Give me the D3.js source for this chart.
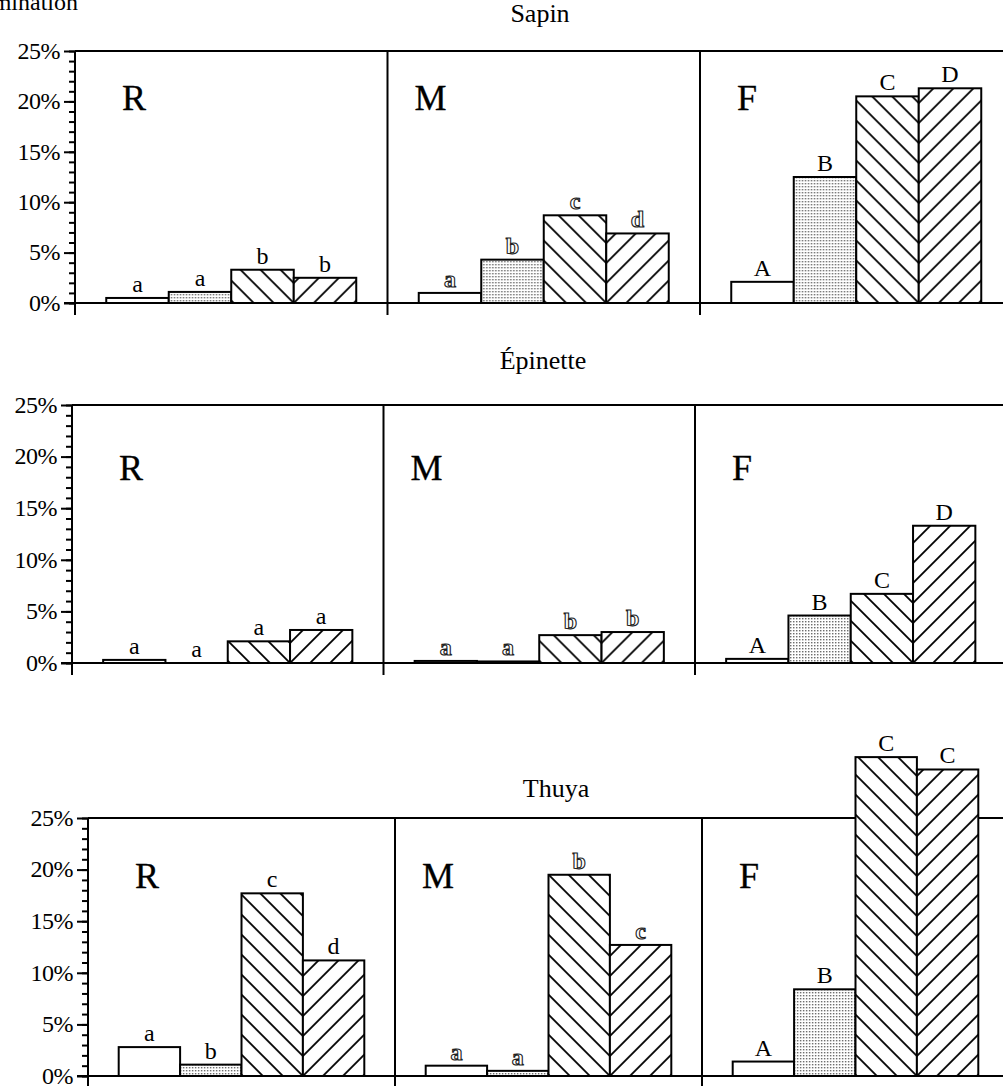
<!DOCTYPE html>
<html>
<head>
<meta charset="utf-8">
<script src="https://cdnjs.cloudflare.com/ajax/libs/d3/7.8.5/d3.min.js"></script>
<style>
  body { margin: 0; background: #fff; }
  svg { display: block; }
</style>
</head>
<body>
<svg class="main-svg"></svg>
<script>
// data (germination %)
var species = ['Sapin', 'Épinette', 'Thuya'],
    sites = ['R', 'M', 'F'],
    bars = ['1', '2', '3', '4'],
    yTicks = [0, 5, 10, 15, 20, 25],
    yTickLabels = ['0%', '5%', '10%', '15%', '20%', '25%'];

var sapinR = [0.5, 1.1, 3.3, 2.5],
    sapinM = [1.0, 4.3, 8.7, 6.9],
    sapinF = [2.1, 12.5, 20.5, 21.3],
    epinetteR = [0.3, 0.0, 2.1, 3.2],
    epinetteM = [0.2, 0.15, 2.7, 3.0],
    epinetteF = [0.4, 4.6, 6.7, 13.3],
    thuyaR = [2.8, 1.1, 17.7, 11.2],
    thuyaM = [1.0, 0.5, 19.5, 12.7],
    thuyaF = [1.4, 8.4, 30.9, 29.7];

var sapinLetters = [['a', 'a', 'b', 'b'], ['a', 'b', 'c', 'd'], ['A', 'B', 'C', 'D']],
    epinetteLetters = [['a', 'a', 'a', 'a'], ['a', 'a', 'b', 'b'], ['A', 'B', 'C', 'D']],
    thuyaLetters = [['a', 'b', 'c', 'd'], ['a', 'a', 'b', 'c'], ['A', 'B', 'C', 'C']];

var values = [[sapinR, sapinM, sapinF], [epinetteR, epinetteM, epinetteF], [thuyaR, thuyaM, thuyaF]],
    letters = [sapinLetters, epinetteLetters, thuyaLetters];

// layout of the three rows (the scan is a bit skewed)
var rows = [
  {left: 75, width: 312.5, top: 51, bottom: 303, titleX: 540, titleY: 22, letterY: 110},
  {left: 72, width: 311.5, top: 405, bottom: 663, titleX: 543, titleY: 369, letterY: 480},
  {left: 88, width: 307, top: 818, bottom: 1076, titleX: 556, titleY: 797, letterY: 888}
];
var siteLetterOffset = {R: 47, M: 27, F: 37},
    fills = ['#fff', 'url(#dots)', 'url(#hatchBack)', 'url(#hatchFwd)'],
    lineW = 2,
    serif = '"Liberation Serif", "DejaVu Serif", serif';

var d3 = window.d3;

var svg = d3.select('.main-svg')
      .attr('width', 1003)
      .attr('height', 1086)
      .style('background', '#fff');

var defs = svg.append('defs');

var dots = defs.append('pattern')
      .attr('id', 'dots')
      .attr('patternUnits', 'userSpaceOnUse')
      .attr('width', 3).attr('height', 3);
dots.append('rect').attr('width', 3).attr('height', 3).attr('fill', '#fff');
dots.append('rect').attr('width', 1.4).attr('height', 1.4).attr('fill', '#666');

function hatch(id, path) {
  var p = defs.append('pattern')
        .attr('id', id)
        .attr('patternUnits', 'userSpaceOnUse')
        .attr('width', 20).attr('height', 20);
  p.append('rect').attr('width', 20).attr('height', 20).attr('fill', '#fff');
  p.append('path')
    .attr('d', path)
    .attr('stroke', '#000')
    .attr('stroke-width', 1.8)
    .attr('fill', 'none');
}
hatch('hatchBack', 'M0,0L20,20M-5,15L5,25M15,-5L25,5');
hatch('hatchFwd', 'M0,20L20,0M-5,5L5,-5M15,25L25,15');

// axis title, cut off at the top left like the scan
svg.append('text')
  .attr('x', 78)
  .attr('y', 10)
  .attr('text-anchor', 'end')
  .style('font-family', serif)
  .style('font-size', '24px')
  .text('Germination');

rows.forEach((row, r) => {
  var g = svg.append('g');
  var y = d3.scaleLinear().domain([0, 25]).range([row.bottom, row.top]);

  g.append('text')
    .attr('x', row.titleX)
    .attr('y', row.titleY)
    .attr('text-anchor', 'middle')
    .style('font-family', serif)
    .style('font-size', '26px')
    .text(species[r]);

  // frame: top and bottom lines, panel separators
  g.append('line')
    .attr('x1', row.left).attr('x2', 1010)
    .attr('y1', y(25)).attr('y2', y(25))
    .attr('stroke', '#000').attr('stroke-width', lineW);
  g.append('line')
    .attr('x1', row.left - 11).attr('x2', 1010)
    .attr('y1', y(0)).attr('y2', y(0))
    .attr('stroke', '#000').attr('stroke-width', lineW);
  g.selectAll('.sep')
    .data([0, 1, 2, 3])
    .enter()
    .append('line')
    .attr('x1', i => row.left + i*row.width)
    .attr('x2', i => row.left + i*row.width)
    .attr('y1', y(25))
    .attr('y2', y(0) + 12)
    .attr('stroke', '#000')
    .attr('stroke-width', lineW);

  // y axis: minor ticks every 1%, labelled ticks every 5%
  var minor = g.append('g')
        .attr('transform', 'translate(' + row.left + ',0)')
        .call(d3.axisLeft(y).tickValues(d3.range(0, 26)).tickSize(6).tickFormat(''));
  var major = g.append('g')
        .attr('transform', 'translate(' + row.left + ',0)')
        .call(d3.axisLeft(y).tickValues(yTicks).tickSize(11).tickPadding(4)
              .tickFormat((d, i) => yTickLabels[i]));
  [minor, major].forEach(a => {
    a.select('.domain').remove();
    a.selectAll('line').attr('stroke', '#000').attr('stroke-width', lineW);
  });
  major.selectAll('text')
    .attr('fill', '#000')
    .attr('dy', '0.3em')
    .attr('letter-spacing', '-0.5')
    .style('font-family', serif)
    .style('font-size', '24px');

  sites.forEach((site, s) => {
    var left = row.left + s*row.width;
    var x = d3.scaleBand()
          .domain(bars)
          .range([left, left + row.width])
          .paddingInner(0)
          .paddingOuter(0.5);
    var v = values[r][s];

    g.append('text')
      .attr('x', left + siteLetterOffset[site])
      .attr('y', row.letterY)
      .attr('fill', '#000')
      .attr('stroke', '#000')
      .attr('stroke-width', 0.3)
      .style('font-family', serif)
      .style('font-size', '36px')
      .text(site);

    // hatches anchored on the junction of bars 3 and 4 so they form chevrons
    var ox = x('4'), oy = y(0);
    g.append('g')
      .attr('transform', 'translate(' + ox + ',' + oy + ')')
      .selectAll('rect')
      .data(v)
      .enter()
      .append('rect')
      .attr('x', (d, i) => x(bars[i]) - ox)
      .attr('y', d => y(d) - oy)
      .attr('width', x.bandwidth())
      .attr('height', d => oy - y(d))
      .attr('fill', (d, i) => fills[i])
      .attr('stroke', '#000')
      .attr('stroke-width', lineW);

    var hollow = site === 'M';
    g.selectAll('.lab' + s)
      .data(v)
      .enter()
      .append('text')
      .attr('x', (d, i) => x(bars[i]) + x.bandwidth()/2)
      .attr('y', d => y(d) - 6)
      .attr('text-anchor', 'middle')
      .attr('fill', hollow ? '#fff' : '#000')
      .attr('stroke', hollow ? '#222' : 'none')
      .attr('stroke-width', 1.1)
      .style('font-family', serif)
      .style('font-weight', hollow ? 'bold' : 'normal')
      .style('font-size', '24px')
      .text((d, i) => letters[r][s][i]);
  });
});
console.log('loaded main');
</script>
</body>
</html>
